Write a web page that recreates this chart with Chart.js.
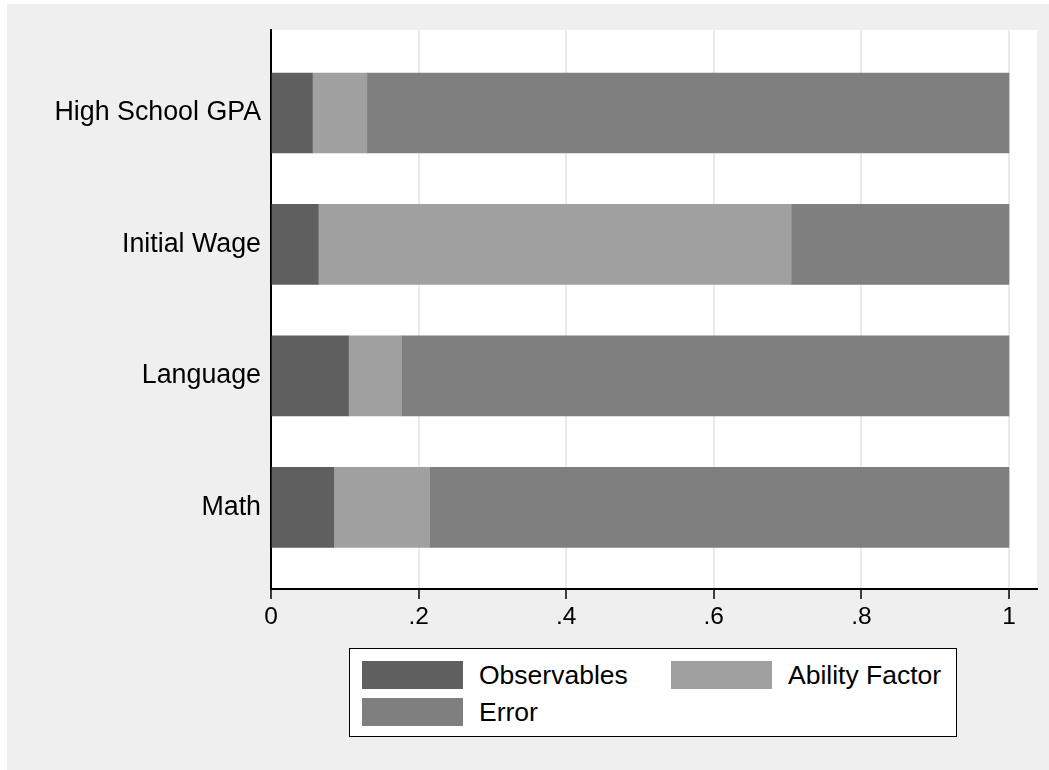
<!DOCTYPE html>
<html>
<head>
<meta charset="utf-8">
<script src="https://cdn.jsdelivr.net/npm/chart.js@4/dist/chart.umd.min.js"></script>
<style>
    body { margin: 0; background: #fff; font-family: 'Liberation Sans', Arial, sans-serif; }
    #wrap { position: relative; width: 1049px; height: 770px; }
    #legend {
        position: absolute; left: 349px; top: 648px; width: 606px; height: 87px;
        background: #fff; border: 1px solid #000;
    }
    .item { position: absolute; height: 28px; font-size: 26.5px; color: #000; }
    .item .sw { position: absolute; left: 0; top: 0; width: 101px; height: 28px; }
    .item span { position: absolute; left: 117px; top: -2px; white-space: nowrap; line-height: 32px; }
</style>
</head>
<body>
<div id="wrap">
    <canvas id="chart" width="1049" height="770"></canvas>
    <div id="legend"></div>
</div>
<script>
const categories = ['High School GPA', 'Initial Wage', 'Language', 'Math'];
const observables = [0.056, 0.064, 0.105, 0.085];
const abilityFactor = [0.074, 0.641, 0.072, 0.130];
const errorPart = [0.870, 0.295, 0.823, 0.785];
const xTicks = [0, 0.2, 0.4, 0.6, 0.8, 1];
const xTickLabels = ['0', '.2', '.4', '.6', '.8', '1'];

const seriesNames = ['Observables', 'Ability Factor', 'Error'];
const seriesColors = ['#5f5f5f', '#a0a0a0', '#7f7f7f'];

function points(arr) {
    return arr.map((v, i) => ({ x: v, y: i }));
}

const datasets = [observables, abilityFactor, errorPart].map((arr, k) => ({
    label: seriesNames[k],
    data: points(arr),
    backgroundColor: seriesColors[k],
    borderWidth: 0,
    barThickness: 80
}));

// page background, grey frame and white plot region
const backdrop = {
    id: 'backdrop',
    beforeDraw(chart) {
        const ctx = chart.ctx;
        const a = chart.chartArea;
        ctx.save();
        ctx.fillStyle = '#ffffff';
        ctx.fillRect(0, 0, chart.width, chart.height);
        ctx.fillStyle = '#efefef';
        ctx.fillRect(7, 4, chart.width - 7, chart.height - 4);
        ctx.fillStyle = '#ffffff';
        ctx.fillRect(a.left, a.top, a.right - a.left, a.bottom - a.top);
        ctx.restore();
    }
};

new Chart(document.getElementById('chart'), {
    type: 'bar',
    data: { datasets: datasets },
    options: {
        indexAxis: 'y',
        responsive: false,
        animation: false,
        devicePixelRatio: 1,
        layout: { padding: { top: 30, right: 12, left: 0, bottom: 0 } },
        plugins: {
            legend: { display: false },
            tooltip: { enabled: false }
        },
        scales: {
            x: {
                type: 'linear',
                stacked: true,
                min: 0,
                max: 1.038,
                afterBuildTicks: s => { s.ticks = xTicks.map(v => ({ value: v })); },
                afterFit: s => { s.height = 181; },
                ticks: {
                    color: '#000',
                    font: { family: 'Liberation Sans', size: 24.5 },
                    padding: 4,
                    callback: v => xTickLabels[xTicks.indexOf(v)]
                },
                grid: {
                    color: '#eaeaea',
                    lineWidth: 2,
                    tickColor: '#000',
                    tickLength: 10,
                    tickWidth: 1.5
                },
                border: { color: '#000', width: 2 }
            },
            y: {
                type: 'linear',
                stacked: true,
                reverse: true,
                offset: false,
                min: -0.631,
                max: 3.621,
                afterBuildTicks: s => { s.ticks = categories.map((c, i) => ({ value: i })); },
                afterFit: s => { s.width = 271; },
                ticks: {
                    color: '#000',
                    font: { family: 'Liberation Sans', size: 26.8 },
                    padding: 10,
                    autoSkip: false,
                    callback: v => categories[v]
                },
                grid: { display: false, drawTicks: false, offset: false },
                border: { color: '#000', width: 2 }
            }
        }
    },
    plugins: [backdrop]
});

// legend in two columns, like the original
const legend = document.getElementById('legend');
const slots = [[12, 12], [321, 12], [12, 49]];
seriesNames.forEach((name, k) => {
    const item = document.createElement('div');
    item.className = 'item';
    item.style.left = slots[k][0] + 'px';
    item.style.top = slots[k][1] + 'px';
    item.innerHTML = '<div class="sw" style="background:' + seriesColors[k] + '"></div><span>' + name + '</span>';
    legend.appendChild(item);
});
</script>
</body>
</html>
